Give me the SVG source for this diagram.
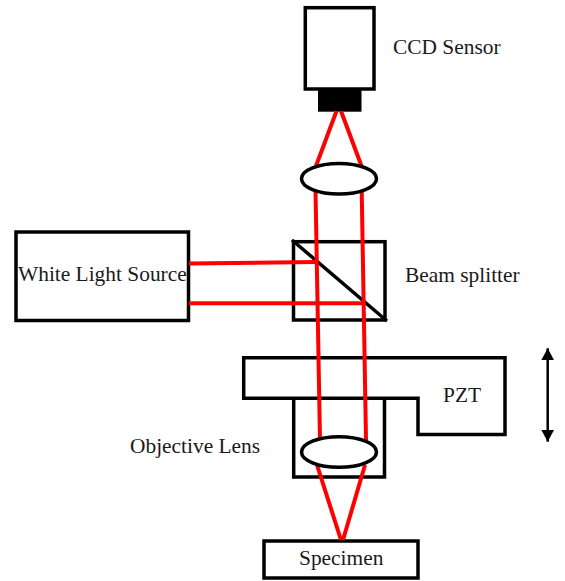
<svg xmlns="http://www.w3.org/2000/svg" width="565" height="581" viewBox="0 0 565 581">
<defs>
<style>
.b{fill:none;stroke:#000;stroke-width:3.5}
.w{fill:#fff;stroke:#000;stroke-width:3.5}
.r{fill:none;stroke:#ff0000;stroke-width:4}
text{font-family:"Liberation Serif","Times New Roman",serif;font-size:21.4px;fill:#1a1a1a}
</style>
<marker id="ah" viewBox="0 0 12 13" refX="12" refY="6.5" markerWidth="12" markerHeight="13" markerUnits="userSpaceOnUse" orient="auto-start-reverse"><path d="M0 0L12 6.5L0 13Z" fill="#000"/></marker>
</defs>
<rect width="565" height="581" fill="#fff"/>
<g id="ccd"><rect class="b" x="305.3" y="7.7" width="68.7" height="81.3"/><rect x="318" y="90" width="43.5" height="21.7" fill="#000"/><text x="393" y="54">CCD Sensor</text></g>
<g id="source"><rect class="b" x="16" y="232" width="172.5" height="88.5"/><text x="18" y="281">White Light Source</text></g>
<g id="splitter"><rect class="b" x="293.5" y="241.7" width="91.5" height="78.3"/><line class="b" x1="292" y1="240" x2="387" y2="321"/><text x="405" y="282">Beam splitter</text></g>
<g id="pzt"><path class="b" d="M243.7 357.7H505V434.5H418V398.3H243.7Z"/><text x="443" y="402">PZT</text></g>
<g id="objective"><path class="b" d="M293.7 398V477H384.5V398"/><text x="130" y="453">Objective Lens</text></g>
<g id="specimen"><rect class="b" x="264" y="541" width="154" height="37"/><text x="299" y="565">Specimen</text></g>
<g id="connectors">
<line class="r" x1="316" y1="166" x2="336.5" y2="111"/>
<line class="r" x1="341" y1="111" x2="361.5" y2="166"/>
<line class="r" x1="189" y1="263.5" x2="316" y2="262"/>
<line class="r" x1="189" y1="303.3" x2="364" y2="303.3"/>
<line class="r" x1="315.5" y1="190" x2="320" y2="440"/>
<line class="r" x1="361.7" y1="190" x2="366" y2="440"/>
<line class="r" x1="317" y1="465" x2="341" y2="540"/>
<line class="r" x1="365" y1="465" x2="343" y2="540"/>
<line x1="547.7" y1="348.3" x2="547.7" y2="441.7" stroke="#000" stroke-width="2.5" marker-start="url(#ah)" marker-end="url(#ah)"/>
</g>
<g id="lens-top"><ellipse class="w" cx="339" cy="178.7" rx="37.5" ry="15.3"/></g>
<g id="lens-objective"><ellipse class="w" cx="339" cy="452" rx="37.5" ry="15.3"/></g>
</svg>
